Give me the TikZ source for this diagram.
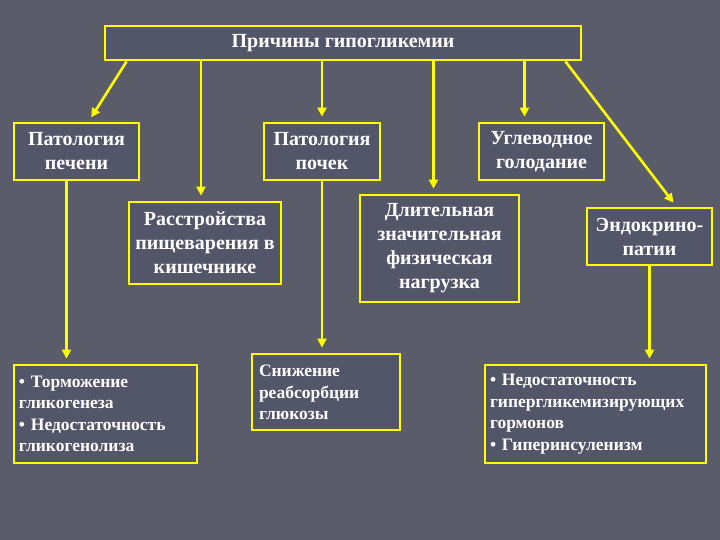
\documentclass[tikz,border=0pt]{standalone}
\usepackage{fontspec}
\setmainfont{Liberation Serif}
\usetikzlibrary{arrows.meta}
\definecolor{bg}{HTML}{5A5C6A}
\definecolor{boxfill}{HTML}{535568}
\definecolor{yel}{HTML}{FFFF00}
\tikzset{
  box/.style={draw=yel, line width=2.8pt, fill=boxfill, text=white, font=\bfseries\fontsize{20}{24}\selectfont, align=center, inner sep=0pt},
  lbox/.style={draw=yel, line width=2.8pt, fill=boxfill, text=white, font=\bfseries\fontsize{17.5}{21.5}\selectfont, align=left, inner sep=0pt},
  arr/.style={draw=yel, line width=2.6pt, -{Triangle[length=9pt,width=9pt]}, shorten >=5pt}
}
\begin{document}
\begin{tikzpicture}[x=1pt,y=-1pt]
\fill[bg] (0,0) rectangle (720,540);
\useasboundingbox (0,0) rectangle (720,540);
\node[box, minimum width=476pt, minimum height=34pt] (top) at (343,43) {Причины гипогликемии};
\node[box, minimum width=125pt, minimum height=57pt] (pech) at (76.5,151.5) {Патология\\печени};
\node[box, minimum width=116pt, minimum height=57pt] (poch) at (322,151.5) {Патология\\почек};
\node[box, minimum width=125pt, minimum height=57pt] (uglev) at (541.5,151.5) {Углеводное\\голодание};
\node[box, minimum width=152pt, minimum height=82pt] (rasstr) at (205,243) {Расстройства\\пищеварения в\\кишечнике};
\node[box, minimum width=159pt, minimum height=107pt] (dlit) at (439.5,248.5) {Длительная\\значительная\\физическая\\нагрузка};
\node[box, minimum width=125pt, minimum height=57pt] (endo) at (649.5,236.5) {Эндокрино-\\патии};
\node[lbox, minimum width=183pt, minimum height=98pt, text width=173pt] (bl) at (105.5,414) {• Торможение\\гликогенеза\\• Недостаточность\\гликогенолиза};
\node[lbox, minimum width=148pt, minimum height=76pt] (snizh) at (326,392) {\parbox[c][70pt][t]{134pt}{\vspace*{8pt}\raggedright Снижение\\реабсорбции\\глюкозы}};
\node[lbox, minimum width=221pt, minimum height=98pt, text width=211pt] (br) at (595.5,414) {• Недостаточность\\гипергликемизирующих\\гормонов\\• Гиперинсуленизм};
% arrows from top
\draw[arr] ([xshift=23pt]top.south west) -- ([xshift=76pt]pech.north west);
\draw[arr] ([xshift=-4pt]top.south -| rasstr.north) -- ([xshift=-4pt]rasstr.north);
\draw[arr] (top.south -| poch.north) -- (poch.north);
\draw[arr] ([xshift=-6pt]top.south -| dlit.north) -- ([xshift=-6pt]dlit.north);
\draw[arr] ([xshift=-17pt]top.south -| uglev.north) -- ([xshift=-17pt]uglev.north);
\draw[arr] ([xshift=-17pt]top.south east) -- ([xshift=27pt]endo.north);
% second level
\draw[arr] ([xshift=-10pt]pech.south) -- ([xshift=-10pt]pech.south |- bl.north);
\draw[arr] (poch.south) -- (poch.south |- snizh.north);
\draw[arr] (endo.south) -- (endo.south |- br.north);
\end{tikzpicture}
\end{document}
